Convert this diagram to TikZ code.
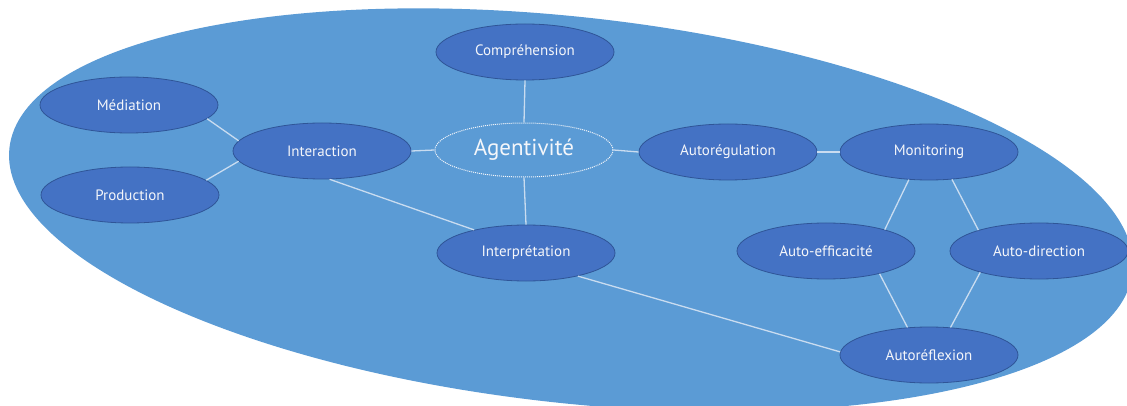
\documentclass[tikz,border=0pt]{standalone}
\usepackage{fontspec}
\setmainfont{PT Sans}
\usetikzlibrary{shapes.geometric}
\definecolor{bgblue}{HTML}{5B9BD5}
\definecolor{nodeblue}{HTML}{4472C4}
\definecolor{nodeedge}{HTML}{2F5597}
\definecolor{linkcol}{HTML}{C9DCF0}
\definecolor{txtcol}{HTML}{F4F6FA}
\tikzset{
  concept/.style={ellipse, fill=nodeblue, draw=nodeedge, line width=0.8pt,
    minimum width=178pt, minimum height=56pt, inner sep=0pt,
    text=txtcol, font=\fontsize{15}{17}\selectfont},
  core/.style={ellipse, draw=txtcol, densely dotted, line width=1pt,
    minimum width=178pt, minimum height=54pt, inner sep=0pt,
    text=txtcol, font=\fontsize{23}{27}\selectfont},
  link/.style={draw=linkcol, line width=1.3pt}
}
\begin{document}
\begin{tikzpicture}[x=1pt,y=-1pt]
\useasboundingbox (0,0) rectangle (1127,406);
\fill[white] (0,0) rectangle (1127,406);
\fill[bgblue, rotate around={-6.3:(571,210)}] (571,210) ellipse [x radius=565, y radius=193];

\node[core] (agent) at (524,150) {Agentivité};
\node[concept] (comp) at (525,52) {Compréhension};
\node[concept] (inter) at (322,151) {Interaction};
\node[concept] (med) at (129,105) {Médiation};
\node[concept] (prod) at (130,195) {Production};
\node[concept] (interp) at (526,253) {Interprétation};
\node[concept] (autoreg) at (728,152) {Autorégulation};
\node[concept] (mon) at (929,152) {Monitoring};
\node[concept] (aeff) at (826,251) {Auto-efficacité};
\node[concept] (adir) at (1039,251) {Auto-direction};
\node[concept] (aref) at (929,355) {Autoréflexion};

\draw[link] (comp.south) -- (agent.north);
\draw[link] (agent.south) -- (interp.north);
\draw[link] (inter.east) -- (agent.west);
\draw[link] (agent.east) -- (autoreg.west);
\draw[link] (autoreg.east) -- (mon.west);
\draw[link] (med.-10) -- (inter.173);
\draw[link] (prod.11) -- (inter.187);
\draw[link] (inter.-75) -- (interp.156);
\draw[link] (interp.-24) -- (aref.178);
\draw[link] (mon.-126) -- (aeff.20);
\draw[link] (mon.-50) -- (adir.161);
\draw[link] (aeff.-23) -- (aref.128);
\draw[link] (adir.200) -- (aref.52);
\end{tikzpicture}
\end{document}
